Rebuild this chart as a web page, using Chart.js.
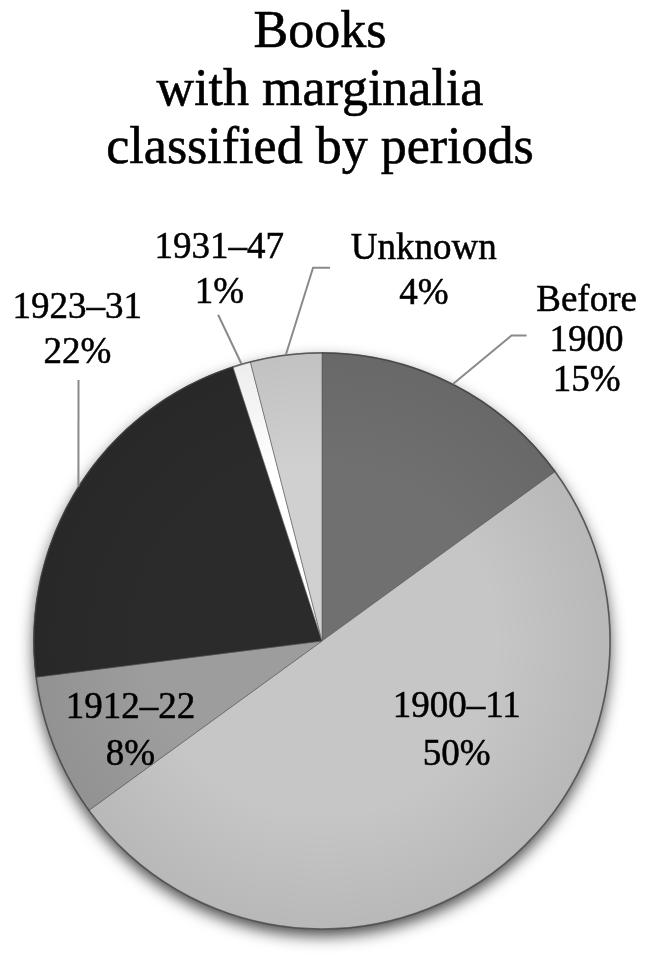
<!DOCTYPE html>
<html><head><meta charset="utf-8">
<script src="https://cdn.jsdelivr.net/npm/chart.js@4.4.1/dist/chart.umd.min.js"></script>
<style>html,body{margin:0;padding:0;background:#fff;} canvas{display:block;}</style>
</head><body>
<canvas id="c" width="650" height="963"></canvas>
<script>
// ---- data ----
const titleLines = ["Books", "with marginalia", "classified by periods"];
const categories = ["Before 1900", "1900–11", "1912–22", "1923–31", "1931–47", "Unknown"];
const labelLines = [["Before", "1900"], ["1900–11"], ["1912–22"], ["1923–31"], ["1931–47"], ["Unknown"]];
const shares = [15, 50, 8, 22, 1, 4];
const sliceColors = ["#707070", "#c6c6c6", "#9d9d9d", "#2b2b2b", "#ffffff", "#d0d0d0"];

// ---- label layout, in units of the pie radius relative to its centre ----
const labelLayout = [
  {x: 0.917, y: -1.145, gap: 40, leader: [[0.657, -1.059], [0.709, -1.059]]},
  {x: 0.467, y: 0.263, gap: 48, leader: null},
  {x: -0.664, y: 0.266, gap: 47, leader: null},
  {x: -0.848, y: -1.121, gap: 45, leader: [[-0.844, -0.905]]},
  {x: -0.356, y: -1.329, gap: 45, leader: [[-0.36, -1.131]]},
  {x: 0.353, y: -1.325, gap: 45, leader: [[-0.031, -1.294], [0.028, -1.294]]}
];

const serif = '"Liberation Serif", "Times New Roman", serif';

function drawText(ctx, t, x, y) {
  ctx.fillText(t, x, y);
  ctx.strokeText(t, x, y);
}

const decor = {
  id: 'decor',
  beforeDatasetsDraw(chart) {
    const ctx = chart.ctx;
    const arc = chart.getDatasetMeta(0).data[0];
    const {x, y, outerRadius} = arc.getProps(['x', 'y', 'outerRadius'], true);
    ctx.save();
    ctx.shadowColor = 'rgba(0,0,0,0.75)';
    ctx.shadowBlur = 16;
    ctx.shadowOffsetY = 7;
    ctx.fillStyle = '#888';
    ctx.beginPath();
    ctx.arc(x, y, outerRadius - 1, 0, Math.PI * 2);
    ctx.fill();
    ctx.restore();
  },
  afterDatasetsDraw(chart) {
    const ctx = chart.ctx;
    const meta = chart.getDatasetMeta(0);
    const first = meta.data[0].getProps(['x', 'y', 'outerRadius'], true);
    const cx = first.x, cy = first.y, r = first.outerRadius;

    // subtle edge shading
    ctx.save();
    const g = ctx.createRadialGradient(cx, cy, r * 0.6, cx, cy, r);
    g.addColorStop(0, 'rgba(0,0,0,0)');
    g.addColorStop(1, 'rgba(0,0,0,0.07)');
    ctx.fillStyle = g;
    ctx.beginPath();
    ctx.arc(cx, cy, r, 0, Math.PI * 2);
    ctx.fill();
    ctx.strokeStyle = 'rgba(60,60,60,0.7)';
    ctx.lineWidth = 1.5;
    ctx.beginPath();
    ctx.arc(cx, cy, r - 0.5, 0, Math.PI * 2);
    ctx.stroke();
    ctx.restore();

    // title
    ctx.save();
    ctx.fillStyle = '#000';
    ctx.strokeStyle = '#000';
    ctx.lineWidth = 0.6;
    ctx.textAlign = 'center';
    ctx.textBaseline = 'alphabetic';
    ctx.font = '52px ' + serif;
    const titleBase = [47, 105, 163];
    titleLines.forEach((t, i) => drawText(ctx, t, 320, titleBase[i]));
    ctx.restore();

    // leaders and labels
    ctx.save();
    meta.data.forEach((el, i) => {
      const p = el.getProps(['startAngle', 'endAngle'], true);
      const mid = (p.startAngle + p.endAngle) / 2;
      const lay = labelLayout[i];
      if (lay.leader) {
        ctx.strokeStyle = '#8a8a8a';
        ctx.lineWidth = 2;
        ctx.beginPath();
        ctx.moveTo(cx + Math.cos(mid) * r, cy + Math.sin(mid) * r);
        lay.leader.forEach(pt => ctx.lineTo(cx + pt[0] * r, cy + pt[1] * r));
        ctx.stroke();
      }
      ctx.fillStyle = '#000';
      ctx.strokeStyle = '#000';
      ctx.lineWidth = 0.5;
      ctx.textAlign = 'center';
      ctx.textBaseline = 'alphabetic';
      ctx.font = '37px ' + serif;
      const lines = labelLines[i].concat([shares[i] + '%']);
      const lx = cx + lay.x * r;
      let ly = cy + lay.y * r;
      lines.forEach(t => { drawText(ctx, t, lx, ly); ly += lay.gap; });
    });
    ctx.restore();
  }
};

new Chart(document.getElementById('c'), {
  type: 'pie',
  data: {
    labels: categories,
    datasets: [{
      data: shares,
      backgroundColor: sliceColors,
      borderColor: 'rgba(90,90,90,0.55)',
      borderWidth: 1
    }]
  },
  options: {
    responsive: false,
    animation: false,
    devicePixelRatio: 1,
    layout: {padding: {left: 33, right: 39, top: 352, bottom: 33}},
    plugins: {legend: {display: false}, tooltip: {enabled: false}, title: {display: false}}
  },
  plugins: [decor]
});
</script>
</body></html>
